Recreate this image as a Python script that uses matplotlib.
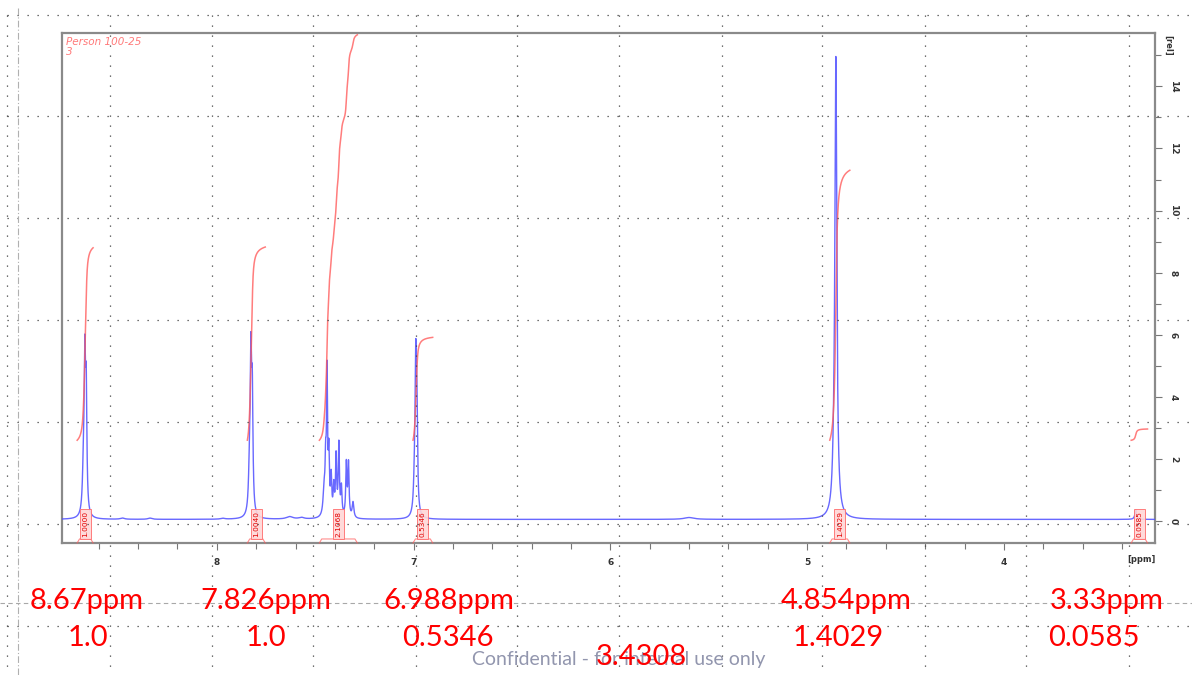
import numpy as np
import matplotlib
matplotlib.use("Agg")
import matplotlib.pyplot as plt
from matplotlib.patches import Rectangle
from matplotlib.ticker import MultipleLocator

# ---------------------------------------------------------------- data
# 1H line list: chemical shift (ppm), line height (rel), half width (ppm)
line_shift = [8.678, 8.671, 8.664,
              7.834, 7.827, 7.820,
              7.455, 7.447, 7.440, 7.431, 7.419, 7.406, 7.394, 7.380,
              7.367, 7.342, 7.331, 7.308,
              6.995, 6.989, 6.983,
              4.864, 4.854,
              3.330,
              8.48, 8.34, 7.97, 7.63, 7.57, 5.60]
line_height = [1.3, 4.5, 3.7,
               1.3, 4.6, 3.6,
               0.8, 1.5, 4.4, 1.9, 1.2, 0.9, 1.9, 2.3,
               0.9, 1.7, 1.7, 0.5,
               1.0, 4.45, 2.8,
               0.8, 14.6,
               0.30,
               0.04, 0.04, 0.03, 0.08, 0.05, 0.06]
line_width = [0.006, 0.004, 0.004,
              0.006, 0.004, 0.004,
              0.006, 0.0035, 0.003, 0.0035, 0.0035, 0.0035, 0.0035, 0.0035,
              0.0035, 0.0035, 0.0035, 0.005,
              0.006, 0.004, 0.004,
              0.008, 0.006,
              0.005,
              0.012, 0.012, 0.012, 0.02, 0.015, 0.03]
baseline_level = 0.05

# integral regions (ppm, high -> low) and their integral values
region_high = [8.710, 7.845, 7.479, 7.003, 4.885, 3.353]
region_low = [8.629, 7.754, 7.286, 6.903, 4.783, 3.270]
integral_value = [1.0000, 1.0040, 2.1068, 0.5346, 1.4029, 0.0585]

# hand-written summary under the spectrum
summary_shift = ["8.67ppm", "7.826ppm", "6.988ppm", "4.854ppm", "3.33ppm"]
summary_value = ["1.0", "1.0", "0.5346", "1.4029", "0.0585"]
summary_extra = "3.4308"

# ---------------------------------------------------------------- layout
W, H = 1192, 675
X_LEFT, X_RIGHT = 8.787, 3.232
Y_BOTTOM, Y_TOP = -0.71, 15.72
INT_START, INT_SCALE = 2.6, 6.2

BLUE = "#4d4dff"
RED = "#ff5c5c"

plt.rcParams["font.family"] = ["DejaVu Sans"]
fig = plt.figure(figsize=(W / 100, H / 100), dpi=100)
fig.patch.set_facecolor("white")

ax = fig.add_axes([62 / W, 1 - 543 / H, (1155 - 62) / W, (543 - 33) / H])
ax.set_xlim(X_LEFT, X_RIGHT)
ax.set_ylim(Y_BOTTOM, Y_TOP)

# spectrum from the line list
ppm = np.linspace(X_LEFT, X_RIGHT, 60000)
spec = np.full_like(ppm, baseline_level)
for c, h, w in zip(line_shift, line_height, line_width):
    spec += h / (1.0 + ((ppm - c) / w) ** 2)
ax.plot(ppm, spec, color=BLUE, lw=1.0, alpha=0.85, zorder=3)

# integral curves, label boxes and region brackets
for hi, lo, val in zip(region_high, region_low, integral_value):
    m = (ppm <= hi) & (ppm >= lo)
    cum = np.cumsum(spec[m] - baseline_level)
    cum = cum / cum[-1]
    ax.plot(ppm[m], INT_START + val * INT_SCALE * cum, color=RED, lw=1.1,
            alpha=0.8, zorder=4)

    mid = 0.5 * (hi + lo)
    bw = 0.055
    y_br = -0.58
    ax.plot([hi, hi - 0.012, lo + 0.012, lo],
            [Y_BOTTOM, y_br, y_br, Y_BOTTOM], color=RED, lw=0.8,
            alpha=0.7, zorder=4, clip_on=False)
    ax.add_patch(Rectangle((mid + bw / 2, y_br), -bw, 0.98,
                           facecolor="#ffd6d6", edgecolor="#ff7070",
                           lw=0.7, alpha=0.9, zorder=5))
    ax.text(mid, y_br + 0.49, f"{val:.4f}", rotation=90, ha="center",
            va="center", fontsize=5.3, color="#e00000", zorder=6)

ax.text(0.004, 0.992, "Person 100-25\n3", transform=ax.transAxes,
        ha="left", va="top", fontsize=7.5, style="italic",
        color="#ff7a7a", linespacing=1.0)

# axes styling
for s in ax.spines.values():
    s.set_color("#8a8a8a")
    s.set_linewidth(1.6)
ax.yaxis.tick_right()
ax.xaxis.set_major_locator(MultipleLocator(1))
ax.xaxis.set_minor_locator(MultipleLocator(0.2))
ax.yaxis.set_major_locator(MultipleLocator(2))
ax.yaxis.set_minor_locator(MultipleLocator(1))
ax.tick_params(axis="x", which="major", length=5, width=0.8,
               color="#777777", labelsize=6.5, labelcolor="#333333", pad=6)
ax.tick_params(axis="x", which="minor", length=4, width=0.8, color="#777777")
ax.tick_params(axis="y", which="major", length=5, width=0.8,
               color="#777777", labelsize=6.5, labelcolor="#333333",
               labelrotation=-90, pad=5)
ax.tick_params(axis="y", which="minor", length=4, width=0.8, color="#777777")
ax.set_xticks([8, 7, 6, 5, 4])
ax.set_xticklabels(["8", "7", "6", "5", "4"], fontweight="bold")
ax.set_yticks(range(0, 15, 2))
for t in ax.get_yticklabels():
    t.set_fontweight("bold")
    t.set_va("center")

# ---------------------------------------------------------------- page overlay
ov = fig.add_axes([0, 0, 1, 1], facecolor="none")
ov.set_xlim(0, W)
ov.set_ylim(H, 0)
ov.axis("off")
ov.set_zorder(10)

ov.text(1141, 560, "[ppm]", ha="center", va="center", fontsize=6,
        fontweight="bold", color="#333333")
ov.text(1168, 45, "[rel]", ha="center", va="center", fontsize=6,
        fontweight="bold", color="#333333", rotation=-90)

# dotted page grid
rows = [14.5, 116.4, 218.3, 320.2, 422.1, 524.0, 625.9]
cols = [7, 110, 212, 313, 416, 517, 619, 722, 822, 925, 1026, 1129]
for y in rows:
    ov.plot([7, W], [y, y], color="#444444", lw=0.9, dashes=(1, 7))
for x in cols:
    ov.plot([x, x], [14.5, H], color="#444444", lw=0.9, dashes=(1, 7))
ov.plot([0, W], [603, 603], color="#a8a8a8", lw=0.8, dashes=(4, 3))
ov.plot([18, 18], [8, H], color="#b0b0b0", lw=0.8, dashes=(6, 2, 1, 2))

# summary text
ANN = ["Lato", "DejaVu Sans"]
row1_x = [87, 266, 449, 846, 1107]
row2_x = [88, 266, 448, 838, 1094]
for x, s in zip(row1_x, summary_shift):
    ov.text(x, 601, s, ha="center", va="center", fontsize=21,
            color="#ff0000", family=ANN)
for x, s in zip(row2_x, summary_value):
    ov.text(x, 638, s, ha="center", va="center", fontsize=21,
            color="#ff0000", family=ANN)
ov.text(619, 660, "Confidential - for internal use only", ha="center",
        va="center", fontsize=14, color="#9296ae", family=ANN)
ov.text(641, 657, summary_extra, ha="center", va="center", fontsize=21,
        color="#ff0000", family=ANN)

fig.savefig("out.png", dpi=100, facecolor="white")
